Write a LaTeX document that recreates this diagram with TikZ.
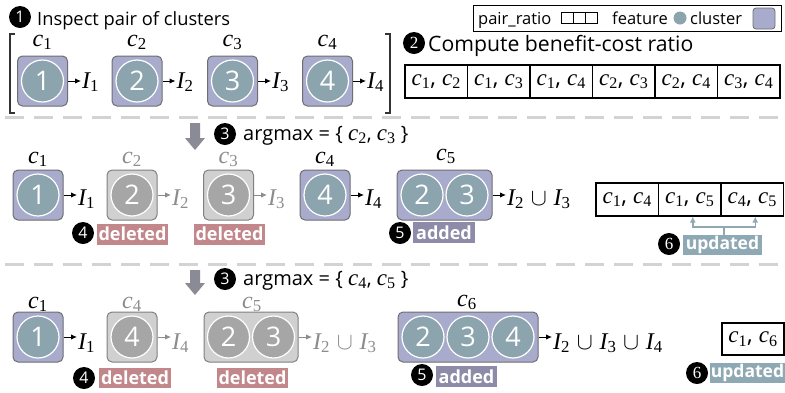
\documentclass[tikz,border=0pt]{standalone}
\usepackage{fix-cm}
\usepackage{fontspec}
\setmainfont{Open Sans}
\newfontfamily\numserif{Liberation Serif}
\newfontfamily\lsf{Liberation Serif}
\newcommand\vC[1]{\mbox{{\lsf\itshape c}\textsubscript{\lsf #1}}}
\newcommand\vI[1]{\mbox{{\lsf\itshape I}\textsubscript{\lsf #1}}}
\newcommand\vU{\hspace{0.28em}\ensuremath{\cup}\hspace{0.28em}}
\newcommand\bigC[1]{{\fontsize{23}{24}\selectfont\vC{#1}}}
\usetikzlibrary{arrows.meta}
\definecolor{cluc}{HTML}{A8ABCC}
\definecolor{featc}{HTML}{8CA4AE}
\definecolor{dcluc}{HTML}{D0D0D0}
\definecolor{dfeatc}{HTML}{A6A6A6}
\definecolor{edgec}{HTML}{6E6E6E}
\definecolor{dedgec}{HTML}{808080}
\definecolor{fadec}{HTML}{8C8C8C}
\definecolor{delc}{HTML}{C2878B}
\definecolor{addc}{HTML}{8E8BA8}
\definecolor{updc}{HTML}{8EA8B4}
\definecolor{dashc}{HTML}{D3D3D3}
\definecolor{darrc}{HTML}{8B8B96}
\begin{document}
\begin{tikzpicture}[x=1pt,y=-1pt,
 clbox/.style={draw=edgec, line width=1pt, rounded corners=5pt, minimum height=50pt, inner sep=0pt, fill=cluc},
 dlbox/.style={clbox, draw=dedgec, fill=dcluc},
 ft/.style={circle, draw=white, line width=1.2pt, fill=featc, minimum size=42pt, inner sep=0pt, text=white, font=\fontsize{27}{30}\selectfont},
 dft/.style={ft, fill=dfeatc},
 ml/.style={font=\fontsize{24}{28}\selectfont, inner sep=1pt, anchor=base},
 mli/.style={ml, anchor=base west},
 fade/.style={text=fadec},
 arr/.style={-{Latex[length=6pt,width=5.5pt]}, line width=1pt},
 farr/.style={arr, draw=fadec},
 cell/.style={draw, line width=1.1pt, minimum width=62.5pt, minimum height=33pt, inner sep=0pt, font=\fontsize{23}{26}\selectfont},
 bnum/.style={circle, fill=black, text=white, minimum size=22pt, inner sep=0pt, font=\fontsize{16}{16}\selectfont},
 tagbox/.style={text=white, font=\bfseries\fontsize{18}{20}\selectfont, inner sep=0pt, minimum height=21pt},
 deltag/.style={tagbox, fill=delc, minimum width=71pt},
 addtag/.style={tagbox, fill=addc, minimum width=62pt},
 updtag/.style={tagbox, fill=updc, minimum width=79pt, minimum height=20pt, font=\bfseries\fontsize{17.5}{20}\selectfont},
 head/.style={font=\fontsize{18.3}{22}\selectfont, inner sep=0pt, anchor=base west},
 legt/.style={font=\fontsize{16.5}{20}\selectfont, inner sep=0pt, anchor=base west},
 divider/.style={draw=dashc, line width=3pt, dash pattern=on 19pt off 10pt},
 downarr/.style={fill=darrc},
 updline/.style={draw=updc, line width=1.5pt},
 updarr/.style={updline, -{Latex[length=6pt,width=6pt]}},
]
\useasboundingbox (0,0) rectangle (785,392);

% ---------- title 1
\node[bnum] (n1) at (20,17) {1};
\node[head] (t1) at (37,25) {Inspect pair of clusters};

% ---------- legend
\node[draw, line width=1pt, minimum width=308pt, minimum height=26pt, inner sep=0pt] (leg) at (627,18) {};
\node[legt] (lg1) at (478,24.5) {pair\_ratio};
\node[draw, line width=0.8pt, minimum width=12pt, minimum height=11pt, inner sep=0pt] (m1) at (567,18) {};
\node[draw, line width=0.8pt, minimum width=12pt, minimum height=11pt, inner sep=0pt] (m2) at (579,18) {};
\node[draw, line width=0.8pt, minimum width=12pt, minimum height=11pt, inner sep=0pt] (m3) at (591,18) {};
\node[legt] (lg2) at (612,24.5) {feature};
\node[circle, fill=featc, minimum size=13pt, inner sep=0pt] (lgf) at (680,18) {};
\node[legt] (lg3) at (690,24.5) {cluster};
\node[draw=edgec, fill=cluc, line width=0.8pt, rounded corners=3pt, minimum width=22pt, minimum height=21pt, inner sep=0pt] (lgc) at (764,18.5) {};

% ---------- row 1
\draw[line width=1.2pt, draw=black!80] (15,34) -- (10,34) -- (10,113) -- (15,113);
\draw[line width=1.2pt, draw=black!80] (385,34) -- (390,34) -- (390,113) -- (385,113);

\node[clbox, minimum width=50pt] (ra1) at (42.5,81) {};
\node[ft] (fa1) at (ra1.center) {1};
\node[clbox, minimum width=50pt] (ra2) at (137,81) {};
\node[ft] (fa2) at (ra2.center) {2};
\node[clbox, minimum width=50pt] (ra3) at (232.5,81) {};
\node[ft] (fa3) at (ra3.center) {3};
\node[clbox, minimum width=50pt] (ra4) at (327.5,81) {};
\node[ft] (fa4) at (ra4.center) {4};

\node[ml] (ca1) at (42.5,46) {\vC{1}};
\node[ml] (ca2) at (137,46) {\vC{2}};
\node[ml] (ca3) at (232.5,46) {\vC{3}};
\node[ml] (ca4) at (327.5,46) {\vC{4}};

\node[mli] (ia1) at (81,88) {\vI{1}};
\node[mli] (ia2) at (175.5,88) {\vI{2}};
\node[mli] (ia3) at (271,88) {\vI{3}};
\node[mli] (ia4) at (366,88) {\vI{4}};
\draw[arr] (ra1.east) -- (ra1.east -| ia1.west);
\draw[arr] (ra2.east) -- (ra2.east -| ia2.west);
\draw[arr] (ra3.east) -- (ra3.east -| ia3.west);
\draw[arr] (ra4.east) -- (ra4.east -| ia4.west);

% ---------- title 2 and table 1
\node[bnum, font=\numserif\fontsize{17}{17}\selectfont] (n2) at (414,43) {2};
\node[head, font=\fontsize{21.2}{24}\selectfont] (t2) at (428,51) {Compute benefit-cost ratio};
\node[cell] (ta1) at (436.25,81.5) {\vC{1}, \vC{2}};
\node[cell] (ta2) at (498.75,81.5) {\vC{1}, \vC{3}};
\node[cell] (ta3) at (561.25,81.5) {\vC{1}, \vC{4}};
\node[cell] (ta4) at (623.75,81.5) {\vC{2}, \vC{3}};
\node[cell] (ta5) at (686.25,81.5) {\vC{2}, \vC{4}};
\node[cell] (ta6) at (748.75,81.5) {\vC{3}, \vC{4}};

% ---------- divider 1
\draw[divider] (5,117) -- (781,117);

% ---------- step 3 (first)
\fill[downarr] (190,123) -- (200,123) -- (200,138) -- (205,138) -- (195,150) -- (185,138) -- (190,138) -- cycle;
\node[bnum] (n3a) at (225,134) {3};
\node[head, font=\fontsize{20}{24}\selectfont] (t3a) at (243,140) {argmax = \{ \bigC{2}, \bigC{3} \}};

% ---------- row 2
\node[clbox, minimum width=50pt] (rb1) at (38,195) {};
\node[ft] (fb1) at (rb1.center) {1};
\node[dlbox, minimum width=50pt] (rb2) at (132,195) {};
\node[dft] (fb2) at (rb2.center) {2};
\node[dlbox, minimum width=50pt] (rb3) at (228.5,195) {};
\node[dft] (fb3) at (rb3.center) {3};
\node[clbox, minimum width=50pt] (rb4) at (325,195) {};
\node[ft] (fb4) at (rb4.center) {4};
\node[clbox, minimum width=95pt] (rb5) at (444.5,195) {};
\node[ft] (fb5a) at (422,195) {2};
\node[ft] (fb5b) at (467,195) {3};

\node[ml] (cb1) at (38,163) {\vC{1}};
\node[ml, fade] (cb2) at (132,163) {\vC{2}};
\node[ml, fade] (cb3) at (228.5,163) {\vC{3}};
\node[ml] (cb4) at (325,163) {\vC{4}};
\node[ml] (cb5) at (446,160) {\vC{5}};

\node[mli] (ib1) at (77,205) {\vI{1}};
\node[mli, fade] (ib2) at (171,205) {\vI{2}};
\node[mli, fade] (ib3) at (267,205) {\vI{3}};
\node[mli] (ib4) at (364,205) {\vI{4}};
\node[mli] (ib5) at (506,205) {\vI{2}\vU\vI{3}};
\draw[arr] (rb1.east) -- (rb1.east -| ib1.west);
\draw[farr] (rb2.east) -- (rb2.east -| ib2.west);
\draw[farr] (rb3.east) -- (rb3.east -| ib3.west);
\draw[arr] (rb4.east) -- (rb4.east -| ib4.west);
\draw[arr] (rb5.east) -- (rb5.east -| ib5.west);

\node[bnum] (n4a) at (83,233) {4};
\node[deltag] (d1) at (132.5,234) {deleted};
\node[deltag] (d2) at (229.5,234) {deleted};
\node[bnum] (n5a) at (400,233) {5};
\node[addtag] (a1) at (444,232.5) {added};

\node[cell] (tb1) at (627.25,199.5) {\vC{1}, \vC{4}};
\node[cell] (tb2) at (689.75,199.5) {\vC{1}, \vC{5}};
\node[cell] (tb3) at (752.25,199.5) {\vC{4}, \vC{5}};

\node[bnum, font=\numserif\fontsize{17}{17}\selectfont] (n6a) at (669,244) {6};
\node[updtag] (u1) at (722.5,245) {updated};
\coordinate (uj) at (724,227);
\draw[updline] (u1.north -| uj) -- (uj);
\draw[updarr] (uj) -| ([xshift=3pt]tb2.south);
\draw[updarr] (uj) -| ([xshift=3pt]tb3.south);

% ---------- divider 2
\draw[divider] (5,264) -- (781,264);

% ---------- step 3 (second)
\fill[downarr] (190,270) -- (200,270) -- (200,283) -- (205,283) -- (195,295) -- (185,283) -- (190,283) -- cycle;
\node[bnum] (n3b) at (225,279) {3};
\node[head, font=\fontsize{20}{24}\selectfont] (t3b) at (243,285) {argmax = \{ \bigC{4}, \bigC{5} \}};

% ---------- row 3
\node[clbox, minimum width=50pt] (rc1) at (38,337) {};
\node[ft] (fc1) at (rc1.center) {1};
\node[dlbox, minimum width=50pt] (rc2) at (132,337) {};
\node[dft] (fc2) at (rc2.center) {4};
\node[dlbox, minimum width=94pt] (rc3) at (251,337) {};
\node[dft] (fc3a) at (228.5,337) {2};
\node[dft] (fc3b) at (273.5,337) {3};
\node[clbox, minimum width=140pt] (rc4) at (468,337) {};
\node[ft] (fc4a) at (423,337) {2};
\node[ft] (fc4b) at (468,337) {3};
\node[ft] (fc4c) at (513,337) {4};

\node[ml] (cc1) at (38,308) {\vC{1}};
\node[ml, fade] (cc2) at (132,308) {\vC{4}};
\node[ml, fade] (cc3) at (252,308) {\vC{5}};
\node[ml] (cc4) at (467,306) {\vC{6}};

\node[mli] (ic1) at (77,349) {\vI{1}};
\node[mli, fade] (ic2) at (171,349) {\vI{4}};
\node[mli, fade] (ic3) at (312,349) {\vI{2}\vU\vI{3}};
\node[mli] (ic4) at (552,349) {\vI{2}\vU\vI{3}\vU\vI{4}};
\draw[arr] (rc1.east) -- (rc1.east -| ic1.west);
\draw[farr] (rc2.east) -- (rc2.east -| ic2.west);
\draw[farr] (rc3.east) -- (rc3.east -| ic3.west);
\draw[arr] (rc4.east) -- (rc4.east -| ic4.west);

\node[bnum] (n4b) at (84,378) {4};
\node[deltag, minimum width=72pt, minimum height=20pt] (d3) at (135,378) {deleted};
\node[deltag, minimum height=20pt] (d4) at (252.5,378) {deleted};
\node[bnum] (n5b) at (422,375) {5};
\node[addtag, minimum width=61pt] (a2) at (466.5,376.5) {added};

\node[cell, minimum width=62pt, minimum height=32pt] (tc1) at (753,339) {\vC{1}, \vC{6}};
\node[bnum, font=\numserif\fontsize{17}{17}\selectfont] (n6b) at (697,373) {6};
\node[updtag, minimum width=75pt] (u2) at (747.5,373) {updated};
\end{tikzpicture}
\end{document}
